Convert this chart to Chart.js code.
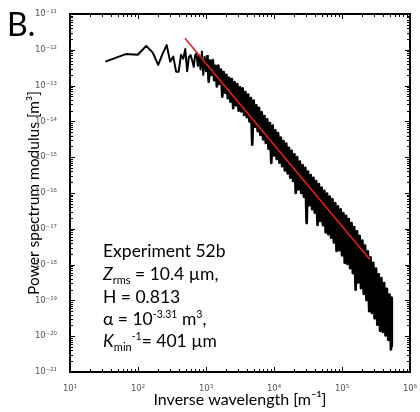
<!DOCTYPE html>
<html>
<head>
<meta charset="utf-8">
<script src="https://cdn.jsdelivr.net/npm/chart.js@4.4.1/dist/chart.umd.min.js"></script>
<style>
  html, body { margin: 0; padding: 0; background: #fff; }
  #wrap { position: relative; width: 420px; height: 412px; }
  #c { position: absolute; left: 0; top: 0; }
  .t { position: absolute; white-space: nowrap; color: #000; font-family: Lato, "Open Sans", sans-serif; }
  .ann { left: 103px; font-size: 17.5px; line-height: 18px; }
  .sub { font-size: 11px; position: relative; top: 4px; }
  .sup { font-size: 10.5px; position: relative; top: -7px; }
</style>
</head>
<body>
<div id="wrap">
  <canvas id="c" width="420" height="412"></canvas>
  <div class="t" style="left:7px;top:8px;font-size:32px;line-height:32px;">B.</div>
  <div class="t ann" style="top:242px;">Experiment 52b</div>
  <div class="t ann" style="top:265px;"><i>Z</i><span class="sub">rms</span> = 10.4 µm,</div>
  <div class="t ann" style="top:288px;">H = 0.813</div>
  <div class="t ann" style="top:310px;">α = 10<span class="sup">-3.31</span> m<span class="sup">3</span>,</div>
  <div class="t ann" style="top:332px;"><i>K</i><span class="sub">min</span><span class="sup">-1</span>= 401 µm</div>
</div>
<script>
// ---- data (log10 units of the log-log axes) ----
const lowLogK = [1.519, 1.820, 1.996, 2.121, 2.217, 2.297, 2.364, 2.422, 2.473, 2.519, 2.560,
  2.598, 2.632, 2.665, 2.695, 2.723, 2.749, 2.774, 2.797, 2.820, 2.841];
const lowLogP = [-12.33, -12.12, -12.14, -11.89, -12.08, -12.42, -12.10, -11.87, -12.33, -12.19, -12.61,
  -12.61, -12.14, -12.25, -11.98, -12.60, -12.20, -12.15, -12.30, -12.48, -12.15];

const bandLogK = [2.86,2.88,2.90,2.92,2.94,2.96,2.98,3.00,3.02,3.04,3.06,3.08,3.10,3.12,3.14,3.16,3.18,3.20,
  3.22,3.24,3.26,3.28,3.30,3.32,3.34,3.36,3.38,3.40,3.42,3.44,3.46,3.48,3.50,3.52,3.54,3.56,3.58,3.60,
  3.62,3.64,3.66,3.68,3.70,3.72,3.74,3.76,3.78,3.80,3.82,3.84,3.86,3.88,3.90,3.92,3.94,3.96,3.98,4.00,
  4.02,4.04,4.06,4.08,4.10,4.12,4.14,4.16,4.18,4.20,4.22,4.24,4.26,4.28,4.30,4.32,4.34,4.36,4.38,4.40,
  4.42,4.44,4.46,4.48,4.50,4.52,4.54,4.56,4.58,4.60,4.62,4.64,4.66,4.68,4.70,4.72,4.74,4.76,4.78,4.80,
  4.82,4.84,4.86,4.88,4.90,4.92,4.94,4.96,4.98,5.00,5.02,5.04,5.06,5.08,5.10,5.12,5.14,5.16,5.18,5.20,
  5.22,5.24,5.26,5.28,5.30,5.32,5.34,5.36,5.38,5.40,5.42,5.44,5.46,5.48,5.50,5.52,5.54,5.56,5.58,5.60,
  5.62,5.64,5.66,5.68,5.70,5.72,5.73,5.732];
const bandLogP = [-12.10,-12.45,-12.15,-12.55,-12.05,-12.70,-12.20,-12.60,-12.15,-12.89,-12.30,-12.70,
  -12.29,-12.85,-12.45,-13.02,-12.44,-12.95,-12.55,-13.31,-12.62,-13.20,-12.70,-13.35,-12.78,-13.45,
  -12.82,-13.63,-12.90,-13.55,-12.96,-13.70,-13.05,-13.72,-13.08,-13.82,-13.18,-13.88,-13.25,-14.00,
  -13.35,-14.65,-13.42,-14.15,-13.55,-14.27,-13.62,-14.38,-13.75,-14.50,-13.85,-14.60,-13.94,-14.76,
  -14.05,-15.16,-14.12,-14.95,-14.25,-15.05,-14.33,-15.15,-14.45,-15.25,-14.55,-15.37,-14.62,-15.45,
  -14.74,-15.57,-14.82,-15.66,-14.92,-16.00,-15.00,-15.90,-15.12,-16.00,-15.22,-16.10,-15.30,-16.84,
  -15.40,-16.34,-15.50,-16.45,-15.58,-16.55,-15.67,-16.89,-15.75,-16.78,-15.85,-16.90,-15.94,-17.10,
  -16.02,-17.15,-16.10,-17.25,-16.18,-17.38,-16.28,-17.62,-16.37,-17.60,-16.46,-17.74,-16.56,-17.95,
  -16.64,-17.98,-16.73,-18.10,-16.84,-18.24,-16.95,-18.70,-17.07,-18.50,-17.20,-18.66,-17.33,-18.82,
  -17.47,-18.99,-17.63,-19.30,-17.80,-19.35,-17.95,-19.50,-18.11,-19.68,-18.27,-19.85,-18.38,-19.88,
  -18.52,-19.98,-18.68,-20.10,-18.84,-20.37,-18.93,-20.28];

const fitLogK = [2.69, 5.41];
const fitLogP = [-11.68, -17.86];

const xDecades = [1, 2, 3, 4, 5, 6];
const xTickLabels = ['10¹', '10²', '10³', '10⁴', '10⁵', '10⁶'];
const yDecades = [-21, -20, -19, -18, -17, -16, -15, -14, -13, -12, -11];
const yTickLabels = ['10⁻²¹', '10⁻²⁰', '10⁻¹⁹', '10⁻¹⁸', '10⁻¹⁷', '10⁻¹⁶', '10⁻¹⁵', '10⁻¹⁴', '10⁻¹³', '10⁻¹²', '10⁻¹¹'];

// ---- build chart ----
const toPts = (lk, lp) => lk.map((v, i) => ({ x: Math.pow(10, v), y: Math.pow(10, lp[i]) }));
const spectrum = toPts(lowLogK, lowLogP).concat(toPts(bandLogK, bandLogP));
const fit = toPts(fitLogK, fitLogP);
const nLow = lowLogK.length;

function decadeTicks(e0, e1) {
  const out = [];
  for (let e = e0; e < e1; e++) for (let m = 1; m < 10; m++) out.push({ value: Number(m + 'e' + e) });
  out.push({ value: Number('1e' + e1) });
  return out;
}
function majorExp(v) {
  const l = Math.log10(v), e = Math.round(l);
  return Math.abs(l - e) < 1e-6 ? e : null;
}
function labelFor(decs, labels) {
  return (v) => { const e = majorExp(v); const i = decs.indexOf(e); return (e !== null && i >= 0) ? labels[i] : ''; };
}

const frameTicks = {
  id: 'frameTicks',
  afterDraw(chart) {
    const { ctx, chartArea: a, scales: { x, y } } = chart;
    ctx.save();
    ctx.strokeStyle = '#000';
    ctx.lineWidth = 1;
    ctx.beginPath();
    for (const t of x.ticks) {
      const p = Math.round(x.getPixelForValue(t.value)) + 0.5;
      const L = majorExp(t.value) !== null ? 5 : 3;
      ctx.moveTo(p, a.bottom); ctx.lineTo(p, a.bottom - L);
      ctx.moveTo(p, a.top); ctx.lineTo(p, a.top + L);
    }
    for (const t of y.ticks) {
      const p = Math.round(y.getPixelForValue(t.value)) + 0.5;
      const L = majorExp(t.value) !== null ? 5 : 3;
      ctx.moveTo(a.left, p); ctx.lineTo(a.left + L, p);
      ctx.moveTo(a.right, p); ctx.lineTo(a.right - L, p);
    }
    ctx.stroke();
    ctx.lineWidth = 2;
    ctx.strokeRect(a.left, a.top, a.right - a.left, a.bottom - a.top);
    ctx.restore();
  }
};

const tickFont = { family: '"DejaVu Sans", "Liberation Sans", sans-serif', size: 8.5 };

new Chart(document.getElementById('c'), {
  type: 'line',
  data: {
    datasets: [
      { data: fit, borderColor: '#ee1c1c', borderWidth: 1.6, pointRadius: 0, tension: 0, fill: false },
      { data: spectrum, borderColor: '#000', borderWidth: 2, pointRadius: 0, tension: 0, fill: false,
        borderJoinStyle: 'round',
        segment: { borderWidth: (c) => (c.p0DataIndex >= nLow + 8 ? 2.7 : 2) } }
    ]
  },
  options: {
    responsive: false,
    animation: false,
    devicePixelRatio: 1,
    layout: { padding: { top: 14, right: 10, left: 0, bottom: 0 } },
    plugins: { legend: { display: false }, tooltip: { enabled: false }, title: { display: false } },
    scales: {
      x: {
        type: 'logarithmic', min: 10, max: 1e6, position: 'bottom',
        grid: { display: false }, border: { display: false },
        afterBuildTicks: (s) => { s.ticks = decadeTicks(1, 6); },
        afterFit: (s) => { s.height = 40; s.paddingLeft = 0; s.paddingRight = 0; },
        ticks: { autoSkip: false, maxRotation: 0, minRotation: 0, padding: 4, color: '#555', font: tickFont,
                 callback: labelFor(xDecades, xTickLabels) },
        title: { display: true, text: 'Inverse wavelength [m⁻¹]', color: '#000',
                 font: { family: 'Lato, "Open Sans", sans-serif', size: 16 },
                 padding: { top: 0, bottom: 3 } }
      },
      y: {
        type: 'logarithmic', min: 1e-21, max: 1e-11, position: 'left',
        grid: { display: false }, border: { display: false },
        afterBuildTicks: (s) => { s.ticks = decadeTicks(-21, -11); },
        afterFit: (s) => { s.width = 70; s.paddingTop = 0; s.paddingBottom = 0; },
        ticks: { autoSkip: false, padding: 5, color: '#555', font: tickFont,
                 callback: labelFor(yDecades, yTickLabels) },
        title: { display: true, text: 'Power spectrum modulus [m³]', color: '#000',
                 font: { family: 'Lato, "Open Sans", sans-serif', size: 15.5 },
                 padding: { top: 25, bottom: 0 } }
      }
    }
  },
  plugins: [frameTicks]
});
</script>
</body>
</html>
